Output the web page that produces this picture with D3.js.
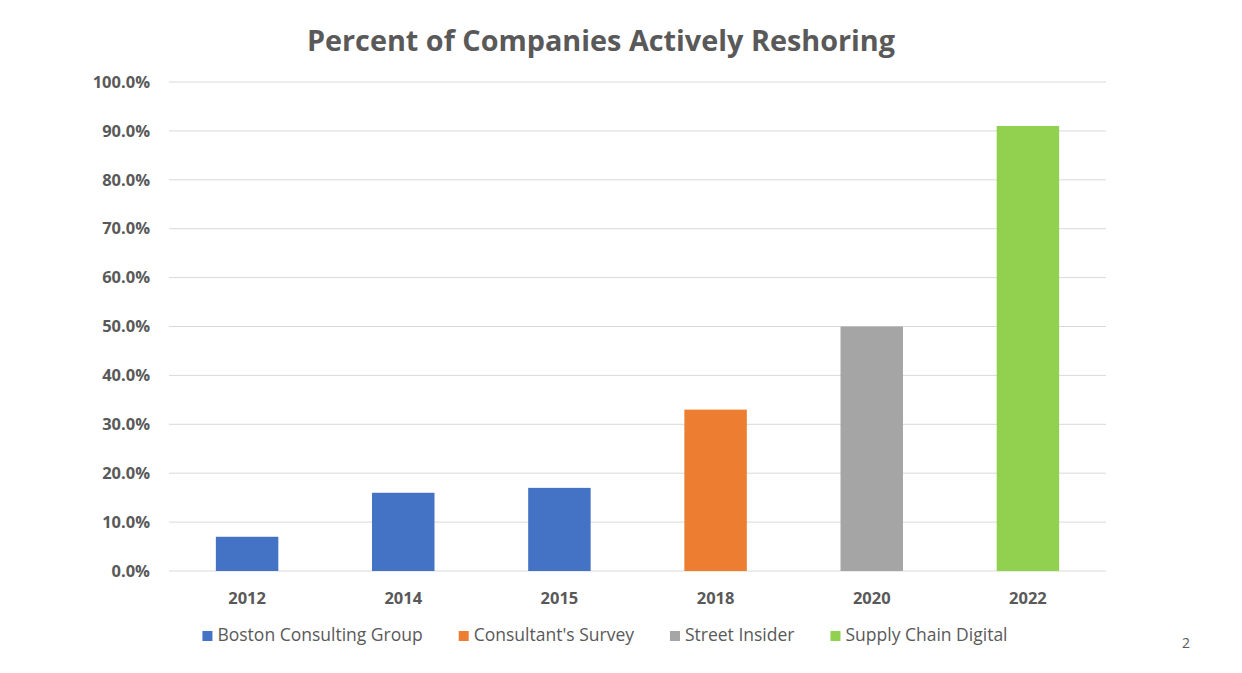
<!DOCTYPE html>
<html>
<head>
<meta charset="utf-8">
<script src="https://cdn.jsdelivr.net/npm/d3@7"></script>
<style>
  body { margin: 0; background: #fff; }
  svg text { font-family: "Open Sans", Lato, sans-serif; }
</style>
</head>
<body>
<svg id="chart" width="1242" height="673"></svg>
<script>
// data
const years = ["2012", "2014", "2015", "2018", "2020", "2022"];
const values = [0.07, 0.16, 0.17, 0.33, 0.50, 0.91];
const sources = ["Boston Consulting Group", "Boston Consulting Group", "Boston Consulting Group",
                 "Consultant's Survey", "Street Insider", "Supply Chain Digital"];
const seriesNames = ["Boston Consulting Group", "Consultant's Survey", "Street Insider", "Supply Chain Digital"];
const seriesColors = ["#4472C4", "#ED7D31", "#A5A5A5", "#92D050"];
const yTicks = [0, 0.1, 0.2, 0.3, 0.4, 0.5, 0.6, 0.7, 0.8, 0.9, 1.0];

const svg = d3.select("#chart");
const margin = {left: 169, right: 136, top: 82, bottom: 102};
const W = 1242, H = 673;

let x = d3.scaleBand().domain(years).range([margin.left, W - margin.right]).padding(0);
let y = d3.scaleLinear().domain([0, 1]).range([H - margin.bottom, margin.top]);
let color = d3.scaleOrdinal().domain(seriesNames).range(seriesColors);

svg.append("text")
    .attr("x", 601).attr("y", 51)
    .attr("text-anchor", "middle")
    .style("font-size", "28.8px").style("font-weight", "bold")
    .style("fill", "#595959")
    .text("Percent of Companies Actively Reshoring");

// gridlines
svg.append("g").attr("class", "grid")
  .selectAll("line").data(yTicks).enter().append("line")
    .attr("x1", margin.left).attr("x2", W - margin.right)
    .attr("y1", d => y(d)).attr("y2", d => y(d))
    .attr("stroke", "#D9D9D9").attr("stroke-width", 1);

let yAxis = d3.axisLeft(y).tickValues(yTicks).tickFormat(d3.format(".1%")).tickSize(0).tickPadding(19);
svg.append("g")
    .attr("transform", "translate(" + margin.left + ",0)")
    .call(yAxis)
    .call(g => g.select(".domain").remove())
    .selectAll("text")
    .style("font-size", "16.5px").style("font-weight", "bold").style("fill", "#595959")
    .style("font-family", "'Open Sans', sans-serif");

let xAxis = d3.axisBottom(x).tickSize(0).tickPadding(21);
svg.append("g")
    .attr("transform", "translate(0," + y(0) + ")")
    .call(xAxis)
    .call(g => g.select(".domain").remove())
    .selectAll("text")
    .style("font-size", "16.5px").style("font-weight", "bold").style("fill", "#595959")
    .style("font-family", "'Open Sans', sans-serif");

let barW = x.bandwidth() * 0.4;
svg.append("g").attr("class", "bars")
  .selectAll("rect").data(years).enter().append("rect")
    .attr("x", (d) => x(d) + (x.bandwidth() - barW) / 2)
    .attr("width", barW)
    .attr("y", (d, i) => y(values[i]))
    .attr("height", (d, i) => y(0) - y(values[i]))
    .attr("fill", (d, i) => color(sources[i]));

// legend
let legend = svg.append("g").attr("class", "legend");
let items = legend.selectAll("g").data(seriesNames).enter().append("g");
items.append("rect").attr("width", 10).attr("height", 10).attr("y", -10)
    .attr("fill", d => color(d));
items.append("text").attr("x", 15).attr("y", 0)
    .style("font-size", "17.5px").style("fill", "#595959")
    .text(d => d);
let pos = 0, offs = [];
items.each(function() {
  offs.push(pos);
  pos += 15 + d3.select(this).select("text").node().getComputedTextLength() + 36;
});
let total = pos - 36;
let lx = 605 - total / 2;
items.attr("transform", (d, i) => "translate(" + (lx + offs[i]) + ",641)");

svg.append("text").attr("x", 1186).attr("y", 648)
    .attr("text-anchor", "middle")
    .style("font-size", "14px").style("fill", "#595959")
    .text("2");
</script>
</body>
</html>
